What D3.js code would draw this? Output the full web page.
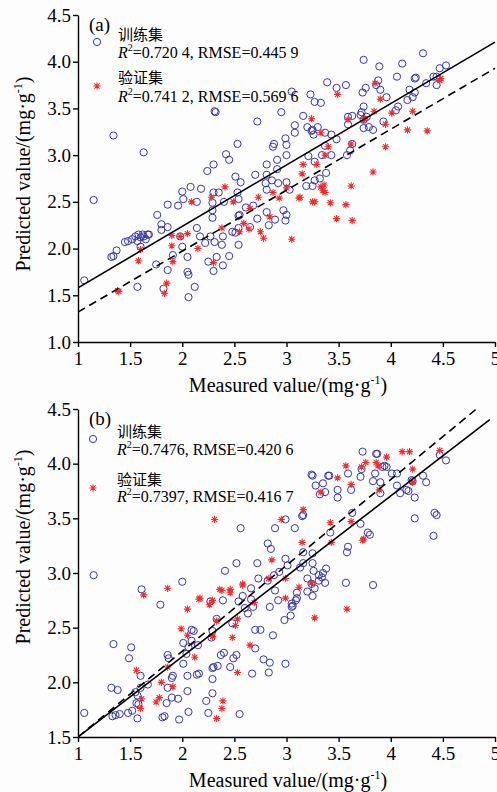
<!DOCTYPE html>
<html>
<head>
<meta charset="utf-8">
<script src="https://cdn.jsdelivr.net/npm/d3@7"></script>
<style>
  body { margin: 0; background: #fdfdfd; }
  svg { display: block; }
  .axis path, .axis line { stroke: #000; stroke-width: 1.4; }
  .axis text { font-family: "Liberation Serif", "Times New Roman", serif; font-size: 19px; fill: #000; }
</style>
</head>
<body>
<div id="chart"></div>
<script>
// panel (a) - training set [measured, predicted]
var trainA = [
  [1.15,2.52],[1.34,3.21],[1.63,3.03],[2.31,3.47],[2.32,3.46],[1.06,1.66],[1.32,1.91],[1.34,1.92],
  [1.37,1.98],[1.45,2.07],[1.48,2.08],[1.52,2.10],[1.55,2.13],[1.58,2.15],[1.60,2.12],[1.57,2.08],
  [1.63,2.13],[1.65,2.10],[1.68,2.15],[1.60,2.02],[1.57,1.59],[1.62,2.15],[1.67,2.15],[1.75,1.83],
  [1.76,2.36],[1.80,2.26],[1.80,2.20],[1.86,2.23],[1.86,1.77],[1.82,1.57],[1.86,2.47],[1.96,2.46],
  [1.98,2.13],[2.00,2.02],[2.00,2.61],[2.01,2.53],[2.05,1.91],[2.05,1.75],[2.06,1.72],[2.06,1.48],
  [2.12,1.59],[1.91,1.93],[2.08,2.66],[2.14,2.50],[2.14,2.22],[2.17,2.13],[2.18,2.64],[2.22,2.06],
  [2.24,2.83],[2.25,1.86],[2.27,2.13],[2.29,2.49],[2.29,2.41],[2.29,2.33],[2.30,2.90],[2.30,2.60],
  [2.30,1.76],[2.31,2.07],[2.33,1.91],[2.35,2.60],[2.38,2.04],[2.39,2.13],[2.39,1.82],[2.40,2.50],
  [2.42,3.01],[2.45,2.95],[2.45,1.92],[2.48,2.18],[2.51,2.77],[2.51,2.17],[2.53,3.12],[2.53,2.60],
  [2.54,2.53],[2.54,2.35],[2.54,2.22],[2.54,2.04],[2.55,2.36],[2.56,2.71],[2.61,2.44],[2.65,2.23],
  [2.68,2.46],[2.70,2.79],[2.72,3.36],[2.72,2.32],[2.80,2.70],[2.81,2.90],[2.81,2.79],[2.81,2.63],
  [2.81,2.39],[2.83,2.25],[2.86,2.73],[2.87,3.09],[2.88,3.12],[2.89,2.31],[2.91,2.95],[2.91,2.85],
  [2.92,2.70],[2.95,3.46],[2.97,2.41],[2.99,3.18],[2.99,2.30],[3.00,3.11],[3.00,3.00],[3.00,2.71],
  [3.00,2.36],[3.03,2.63],[3.05,3.68],[3.08,3.32],[3.08,3.24],[3.16,3.42],[3.19,2.67],[3.20,3.30],
  [3.21,2.99],[3.23,3.65],[3.24,3.26],[3.25,3.27],[3.25,2.67],[3.26,3.22],[3.27,3.57],[3.27,2.93],
  [3.27,2.73],[3.30,3.30],[3.32,2.75],[3.33,3.56],[3.34,3.00],[3.37,3.24],[3.37,3.10],[3.38,2.81],
  [3.39,3.78],[3.43,3.22],[3.43,3.00],[3.48,3.72],[3.48,3.17],[3.57,3.75],[3.58,3.00],[3.59,3.41],
  [3.59,3.33],[3.61,3.05],[3.63,3.42],[3.63,3.12],[3.71,3.43],[3.72,3.46],[3.73,3.67],[3.74,4.02],
  [3.74,3.52],[3.74,3.38],[3.74,3.29],[3.76,3.72],[3.77,3.41],[3.79,3.30],[3.83,3.27],[3.86,3.75],
  [3.88,3.80],[3.89,3.95],[3.90,3.70],[3.93,3.36],[3.96,3.62],[4.05,3.48],[4.06,3.84],[4.07,3.52],
  [4.11,3.98],[4.16,3.59],[4.18,3.70],[4.21,3.62],[4.23,3.67],[4.23,3.82],[4.24,3.83],[4.31,4.09],
  [4.34,3.77],[4.41,3.84],[4.44,3.84],[4.44,3.75],[4.47,3.93],[4.53,3.96]
]
// panel (a) - validation set
var validA = [
  [1.38,1.55],[1.39,1.54],[1.58,1.87],[1.60,1.99],[1.83,1.52],[1.85,1.63],[1.90,2.14],[1.90,2.03],
  [1.91,1.86],[1.98,2.13],[2.05,2.16],[2.09,2.50],[2.15,2.00],[2.28,2.55],[2.30,1.85],[2.38,2.22],
  [2.41,2.66],[2.49,2.50],[2.55,2.18],[2.59,2.27],[2.64,2.21],[2.65,2.43],[2.73,2.55],[2.75,2.18],
  [2.78,2.11],[2.84,2.34],[2.87,2.60],[2.93,2.54],[3.00,2.65],[3.05,2.10],[3.12,2.54],[3.13,2.55],
  [3.15,2.80],[3.16,2.90],[3.24,3.39],[3.25,2.50],[3.27,2.50],[3.29,2.90],[3.33,3.24],[3.33,2.66],
  [3.35,2.62],[3.36,2.68],[3.37,2.60],[3.37,3.00],[3.40,3.09],[3.42,2.49],[3.48,2.32],[3.49,3.65],
  [3.57,2.47],[3.59,3.38],[3.62,3.12],[3.62,2.67],[3.63,2.30],[3.74,3.37],[3.75,3.39],[3.83,2.82],
  [3.84,3.47],[3.85,3.77],[3.90,3.60],[3.95,3.33],[3.95,3.09],[4.01,3.45],[4.16,3.27],[4.21,3.47],
  [4.35,3.26],[4.47,3.80],[4.48,3.82]
]
// panel (b) - training set
var trainB = [
  [1.15,2.98],[1.06,1.72],[1.34,2.35],[1.51,2.32],[1.49,2.22],[1.32,1.95],[1.38,1.93],[1.33,1.69],
  [1.36,1.70],[1.40,1.71],[1.48,1.72],[1.52,1.74],[1.57,1.67],[1.58,1.80],[1.56,1.81],[1.57,1.88],
  [1.55,1.91],[1.60,1.95],[1.60,2.06],[1.67,1.98],[1.61,2.85],[1.79,2.71],[1.81,1.68],[1.83,1.69],
  [1.85,1.81],[1.86,1.95],[1.86,2.25],[1.87,2.22],[1.90,2.04],[1.91,2.06],[1.90,1.86],[1.96,1.85],
  [1.97,1.66],[2.00,2.92],[2.01,2.36],[2.01,2.17],[2.04,2.26],[2.05,2.06],[2.05,1.92],[2.06,1.73],
  [2.09,2.38],[2.09,2.48],[2.11,2.47],[2.06,2.32],[2.15,2.34],[2.16,2.08],[2.14,2.07],[2.23,1.83],
  [2.25,1.72],[2.27,2.74],[2.29,2.47],[2.28,2.41],[2.29,2.13],[2.30,2.14],[2.29,2.03],[2.29,1.90],
  [2.33,2.58],[2.34,2.15],[2.37,2.25],[2.39,2.75],[2.40,2.27],[2.41,3.02],[2.46,2.14],[2.48,2.54],
  [2.49,2.22],[2.52,3.09],[2.52,2.25],[2.54,2.74],[2.55,1.71],[2.56,3.41],[2.58,2.79],[2.60,2.68],
  [2.63,2.63],[2.66,2.86],[2.66,2.76],[2.67,2.08],[2.68,2.69],[2.70,2.48],[2.70,2.31],[2.72,3.09],
  [2.73,2.95],[2.75,2.48],[2.78,2.21],[2.82,3.27],[2.82,2.93],[2.83,2.09],[2.84,2.69],[2.84,2.18],
  [2.85,3.22],[2.87,2.43],[2.88,2.98],[2.89,3.41],[2.89,2.84],[2.92,2.75],[2.93,3.01],[2.98,2.57],
  [2.99,3.49],[2.99,3.13],[2.99,2.17],[3.01,3.07],[3.04,2.61],[3.05,2.69],[3.06,2.70],[3.08,3.41],
  [3.09,2.75],[3.10,2.82],[3.05,2.72],[3.13,3.05],[3.15,3.52],[3.16,3.53],[3.16,3.09],[3.16,3.19],
  [3.10,2.77],[3.20,2.95],[3.20,2.83],[3.24,3.90],[3.25,3.89],[3.24,2.90],[3.25,3.18],[3.25,3.09],
  [3.25,2.79],[3.26,3.02],[3.27,2.86],[3.28,3.80],[3.31,2.98],[3.35,3.82],[3.35,3.00],[3.32,3.72],
  [3.37,3.74],[3.38,3.04],[3.34,2.96],[3.31,2.93],[3.37,2.91],[3.40,3.89],[3.41,3.89],[3.42,3.37],
  [3.49,3.76],[3.49,3.69],[3.57,2.91],[3.58,3.19],[3.59,3.24],[3.59,3.91],[3.63,3.55],[3.62,3.76],
  [3.71,3.45],[3.71,3.88],[3.72,3.95],[3.73,4.11],[3.78,3.37],[3.80,3.35],[3.83,3.84],[3.83,2.89],
  [3.85,3.91],[3.86,4.09],[3.87,4.09],[3.90,3.83],[3.90,3.73],[3.92,3.97],[3.94,3.98],[3.96,3.97],
  [4.01,3.91],[4.06,3.91],[4.06,3.80],[4.09,3.73],[4.15,3.76],[4.17,3.75],[4.20,3.85],[4.21,3.84],
  [4.23,3.69],[4.23,3.50],[4.31,3.89],[4.34,3.83],[4.41,3.34],[4.42,3.55],[4.44,3.53],[4.47,4.08],
  [4.53,4.03]
]
// panel (b) - validation set
var validB = [
  [1.56,2.11],[1.60,1.76],[1.61,1.85],[1.63,2.80],[1.75,1.82],[1.78,1.86],[1.80,2.00],[1.86,2.86],
  [1.86,2.14],[1.91,1.96],[1.99,2.49],[2.05,2.67],[2.05,2.43],[2.12,2.23],[2.16,2.76],[2.17,2.77],
  [2.26,2.71],[2.29,2.75],[2.29,2.42],[2.31,3.49],[2.33,2.56],[2.33,1.67],[2.36,2.85],[2.38,2.84],
  [2.38,1.76],[2.39,1.83],[2.46,2.85],[2.46,2.82],[2.48,2.41],[2.51,2.52],[2.53,2.58],[2.53,2.09],
  [2.58,2.90],[2.58,2.89],[2.65,2.34],[2.69,2.73],[2.83,2.95],[2.86,3.12],[2.95,3.49],[2.99,2.95],
  [2.99,2.77],[3.12,2.87],[3.15,3.28],[3.16,3.58],[3.24,2.91],[3.27,2.59],[3.33,3.74],[3.42,3.46],
  [3.43,3.28],[3.49,3.87],[3.57,3.98],[3.58,2.67],[3.62,3.81],[3.62,3.47],[3.72,3.97],[3.73,3.30],
  [3.74,3.31],[3.76,4.01],[3.86,4.01],[3.88,3.98],[3.89,3.76],[3.96,4.06],[4.11,4.11],[4.18,4.11],
  [4.21,3.95],[4.21,3.83],[4.47,4.12]
]

// fitted lines [intercept, slope, last x]
var fitTrainA = [0.9225, 0.6575, 5]
var fitValidA = [0.6675, 0.6525, 5]
var fitTrainB = [0.765, 0.735, 4.95]
var fitValidB = [0.715, 0.785, 5]

var xTicks = [1, 1.5, 2, 2.5, 3, 3.5, 4, 4.5, 5]
var yTicksA = [1.0, 1.5, 2.0, 2.5, 3.0, 3.5, 4.0, 4.5]
var yTicksB = [1.5, 2.0, 2.5, 3.0, 3.5, 4.0, 4.5]

var statsA = ["0.720 4", "0.445 9", "0.741 2", "0.569 6"]
var statsB = ["0.7476", "0.420 6", "0.7397", "0.416 7"]

var W = 497, H = 792
var svg = d3.select("#chart").append("svg")
  .attr("width", W).attr("height", H)

var starPath = "M-3.6,0H3.6M0,-3.6V3.6M-2.6,-2.6L2.6,2.6M-2.6,2.6L2.6,-2.6"
var blue = "#3535b0", red = "#f22c2c"
var serif = "'Liberation Serif', 'Times New Roman', serif"
var cjk = "'Noto Sans CJK SC', sans-serif"

function drawPanel(p) { //{{{
  var x = d3.scaleLinear().domain([1, 5]).range([78, 495])
  var y = d3.scaleLinear().domain(p.yDomain).range([p.bottom, p.top])

  var g = svg.append("g")

  g.append("clipPath").attr("id", "clip" + p.id)
    .append("rect")
      .attr("x", 78).attr("y", p.top)
      .attr("width", 420).attr("height", p.bottom - p.top)

  // points
  g.append("g").selectAll("circle")
      .data(p.train)
    .enter().append("circle")
      .attr("cx", d => x(d[0]))
      .attr("cy", d => y(d[1]))
      .attr("r", 3.6)
      .attr("fill", "none")
      .attr("stroke", blue)
      .attr("stroke-width", 1)

  g.append("g").selectAll("path")
      .data(p.valid)
    .enter().append("path")
      .attr("d", starPath)
      .attr("transform", d => "translate(" + x(d[0]) + "," + y(d[1]) + ")")
      .attr("stroke", red)
      .attr("stroke-width", 1.1)

  // fit lines
  var line = d3.line().x(d => x(d[0])).y(d => y(d[1]))
  var fits = [[p.fitT, null], [p.fitV, "8,5"]]
  fits.forEach(f => {
    var c = f[0]
    g.append("path")
      .attr("clip-path", "url(#clip" + p.id + ")")
      .attr("d", line([[1, c[0] + c[1]], [c[2], c[0] + c[1] * c[2]]]))
      .attr("fill", "none")
      .attr("stroke", "#000")
      .attr("stroke-width", 1.6)
      .attr("stroke-dasharray", f[1])
  })

  // axes
  g.append("g")
      .attr("class", "axis")
      .attr("transform", "translate(78,0)")
      .call(d3.axisLeft(y).tickValues(p.yTicks).tickFormat(d3.format(".1f"))
        .tickSizeInner(5).tickSizeOuter(0).tickPadding(2))
  g.append("g")
      .attr("class", "axis")
      .attr("transform", "translate(0," + p.bottom + ")")
      .call(d3.axisBottom(x).tickValues(xTicks).tickFormat(d => String(d))
        .tickSizeInner(5).tickSizeOuter(0).tickPadding(5))

  // axis titles
  var xt = g.append("text")
      .attr("x", 288).attr("y", p.bottom + 50)
      .attr("text-anchor", "middle")
      .style("font-family", serif).style("font-size", "20px")
  xt.append("tspan").text("Measured value/(mg·g")
  xt.append("tspan").attr("dy", -8).style("font-size", "12px").text("-1")
  xt.append("tspan").attr("dy", 8).text(")")

  var yt = g.append("text")
      .attr("transform", "translate(30," + p.titleY + ") rotate(-90)")
      .attr("text-anchor", "middle")
      .style("font-family", serif).style("font-size", "20px")
  yt.append("tspan").text("Predicted value/(mg·g")
  yt.append("tspan").attr("dy", -8).style("font-size", "12px").text("-1")
  yt.append("tspan").attr("dy", 8).text(")")

  // panel tag and legend
  g.append("text")
      .attr("x", 89).attr("y", p.top + p.tagDy)
      .style("font-family", serif).style("font-size", "19px")
      .text(p.tag)

  var lg = p.legend
  g.append("circle")
      .attr("cx", lg.mx).attr("cy", lg.y0 + 2)
      .attr("r", 3.6).attr("fill", "none")
      .attr("stroke", blue).attr("stroke-width", 1)
  g.append("path")
      .attr("d", starPath)
      .attr("transform", "translate(" + lg.mx + "," + (lg.y2 + 3) + ")")
      .attr("stroke", red).attr("stroke-width", 1.1)

  var names = [["训练集", lg.y0, lg.y1, p.stats[0], p.stats[1]],
               ["验证集", lg.y2, lg.y3, p.stats[2], p.stats[3]]]
  names.forEach(n => {
    g.append("text")
        .attr("x", lg.tx).attr("y", n[1])
        .style("font-family", cjk).style("font-size", "15px")
        .text(n[0])
    var t = g.append("text")
        .attr("x", lg.tx).attr("y", n[2])
        .style("font-family", serif).style("font-size", "16px")
    t.append("tspan").style("font-style", "italic").text("R")
    t.append("tspan").attr("dy", -7).style("font-size", "10px").text("2")
    t.append("tspan").attr("dy", 7).text("=" + n[3] + ", RMSE=" + n[4])
  })
} //}}}

drawPanel({
  id: "a", tag: "(a)", top: 15, bottom: 342, yDomain: [1, 4.5], yTicks: yTicksA,
  train: trainA, valid: validA, fitT: fitTrainA, fitV: fitValidA, stats: statsA,
  titleY: 174, tagDy: 16,
  legend: { mx: 97, tx: 118, y0: 40, y1: 58, y2: 83, y3: 102 }
})

drawPanel({
  id: "b", tag: "(b)", top: 409, bottom: 737, yDomain: [1.5, 4.5], yTicks: yTicksB,
  train: trainB, valid: validB, fitT: fitTrainB, fitV: fitValidB, stats: statsB,
  titleY: 547, tagDy: 16,
  legend: { mx: 93, tx: 117, y0: 437, y1: 455, y2: 485, y3: 502 }
})
</script>
</body>
</html>
